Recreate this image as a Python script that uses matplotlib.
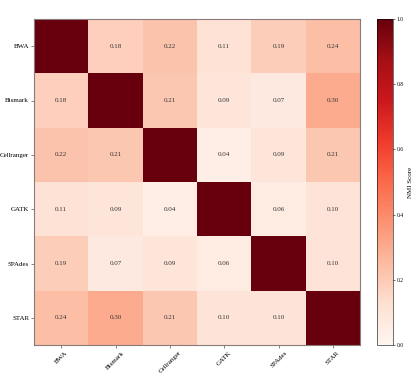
import numpy as np
import matplotlib
matplotlib.use("Agg")
import matplotlib.pyplot as plt

tools = ["BWA", "Bismark", "Cellranger", "GATK", "SPAdes", "STAR"]
nmi = np.array([
    [1.00, 0.18, 0.22, 0.11, 0.19, 0.24],
    [0.18, 1.00, 0.21, 0.09, 0.07, 0.30],
    [0.22, 0.21, 1.00, 0.04, 0.09, 0.21],
    [0.11, 0.09, 0.04, 1.00, 0.06, 0.10],
    [0.19, 0.07, 0.09, 0.06, 1.00, 0.10],
    [0.24, 0.30, 0.21, 0.10, 0.10, 1.00],
])

plt.rcParams["font.family"] = ["Liberation Serif", "DejaVu Serif"]

fig = plt.figure(figsize=(4.16, 3.76), dpi=100)
ax = fig.add_axes([34 / 416, 31 / 376, 326 / 416, 326 / 376])
cax = fig.add_axes([377 / 416, 31 / 376, 16 / 416, 326 / 376])

im = ax.imshow(nmi, cmap="Reds", vmin=0, vmax=1, aspect="auto")
for i in range(len(tools)):
    for j in range(len(tools)):
        if i != j:
            ax.text(j, i, f"{nmi[i, j]:.2f}", ha="center", va="center",
                    fontsize=5, color="#333333")

ax.set_xticks(range(len(tools)))
ax.set_yticks(range(len(tools)))
ax.set_xticklabels(tools, rotation=45, fontsize=5)
ax.set_yticklabels(tools, fontsize=5)
ax.tick_params(length=2, width=0.5, color="#555555", pad=1.5)
for s in ax.spines.values():
    s.set_color("#8a7a78")
    s.set_linewidth(0.8)

cb = fig.colorbar(im, cax=cax)
cb.set_ticks([0.0, 0.2, 0.4, 0.6, 0.8, 1.0])
cb.ax.tick_params(labelsize=4, length=1.5, width=0.4, pad=1)
cb.outline.set_linewidth(0.4)
cb.set_label("NMI Score", fontsize=5, labelpad=3)

fig.savefig("out.png", dpi=100)
